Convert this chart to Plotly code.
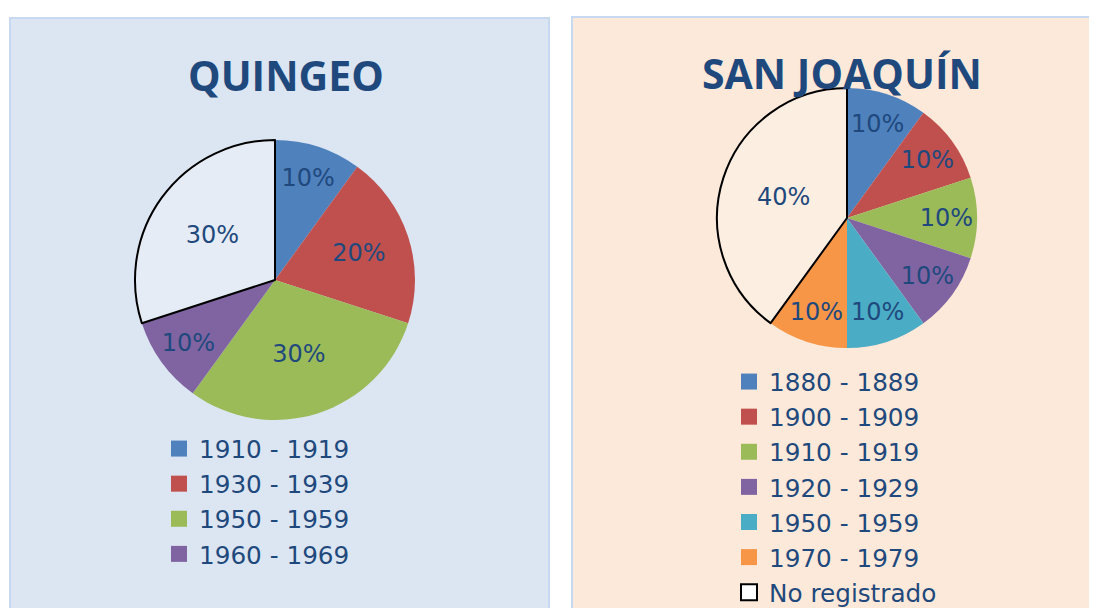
import plotly.graph_objects as go

# the page body keeps its default 8px margin, so the figure is drawn 8px in
OFF = 8
W, H = 1097 - OFF, 608 - OFF
INK = "#1F497D"
TITLE_FONT = "Open Sans, Liberation Sans, sans-serif"
TEXT_FONT = "DejaVu Sans, Open Sans, sans-serif"
NO_REG_FILL = "rgba(255,255,255,0.25)"

# --- data -------------------------------------------------------------
quingeo_labels = ["1910 - 1919", "1930 - 1939", "1950 - 1959", "1960 - 1969", "No registrado"]
quingeo_values = [10, 20, 30, 10, 30]
quingeo_colors = ["#4F81BD", "#C0504D", "#9BBB59", "#8064A2", NO_REG_FILL]
quingeo_in_legend = [True, True, True, True, False]

sanjoaquin_labels = ["1880 - 1889", "1900 - 1909", "1910 - 1919", "1920 - 1929",
                     "1950 - 1959", "1970 - 1979", "No registrado"]
sanjoaquin_values = [10, 10, 10, 10, 10, 10, 40]
sanjoaquin_colors = ["#4F81BD", "#C0504D", "#9BBB59", "#8064A2",
                     "#4BACC6", "#F79646", NO_REG_FILL]
sanjoaquin_in_legend = [True] * 7


def px_x(v):
    # window pixel -> paper fraction
    return (v - OFF) / W


def px_y(v):
    return 1 - (v - OFF) / H


def pie_domain(cx, cy, r):
    return dict(x=[px_x(cx - r), px_x(cx + r)], y=[px_y(cy + r), px_y(cy - r)])


def slice_lines(labels):
    # only the "No registrado" slice gets the black outline
    widths = [2 if lab == "No registrado" else 0 for lab in labels]
    return dict(color="black", width=widths)


fig = go.Figure()

fig.add_trace(go.Pie(
    labels=quingeo_labels, values=quingeo_values,
    marker=dict(colors=quingeo_colors, line=slice_lines(quingeo_labels)),
    sort=False, direction="clockwise", rotation=0,
    textinfo="percent", textposition="inside", insidetextorientation="horizontal",
    insidetextfont=dict(family=TEXT_FONT, size=24, color=INK),
    domain=pie_domain(275, 280, 140), showlegend=False,
))

fig.add_trace(go.Pie(
    labels=sanjoaquin_labels, values=sanjoaquin_values,
    marker=dict(colors=sanjoaquin_colors, line=slice_lines(sanjoaquin_labels)),
    sort=False, direction="clockwise", rotation=0,
    textinfo="percent", textposition="inside", insidetextorientation="horizontal",
    insidetextfont=dict(family=TEXT_FONT, size=24, color=INK),
    domain=pie_domain(847, 218, 130), showlegend=False,
))

# legend entries (square swatches) built from the same lists
for labels, colors, keep, legend in [
    (quingeo_labels, quingeo_colors, quingeo_in_legend, "legend"),
    (sanjoaquin_labels, sanjoaquin_colors, sanjoaquin_in_legend, "legend2"),
]:
    for lab, col, k in zip(labels, colors, keep):
        if not k:
            continue
        is_nr = lab == "No registrado"
        fig.add_trace(go.Scatter(
            x=[None], y=[None], mode="markers", name=lab, legend=legend,
            marker=dict(symbol="square", size=16,
                        color="white" if is_nr else col,
                        line=dict(color="black" if is_nr else col, width=2 if is_nr else 0)),
            hoverinfo="skip",
        ))

legend_style = dict(
    font=dict(family=TEXT_FONT, size=24.7, color=INK),
    bgcolor="rgba(0,0,0,0)", borderwidth=0, tracegroupgap=0,
    xanchor="left", yanchor="top", itemsizing="trace",
)

fig.update_layout(
    width=W, height=H,
    margin=dict(l=0, r=0, t=0, b=0, autoexpand=False),
    paper_bgcolor="white", plot_bgcolor="rgba(0,0,0,0)",
    font=dict(family=TEXT_FONT, color=INK),
    xaxis=dict(visible=False), yaxis=dict(visible=False),
    legend=dict(x=px_x(159), y=px_y(426), **legend_style),
    legend2=dict(x=px_x(729), y=px_y(359), **legend_style),
    shapes=[
        dict(type="rect", xref="paper", yref="paper",
             x0=px_x(10), x1=px_x(549), y0=px_y(640), y1=px_y(18),
             fillcolor="#DCE6F2", line=dict(color="#C6D9F1", width=2), layer="below"),
        dict(type="rect", xref="paper", yref="paper",
             x0=px_x(572), x1=px_x(1130), y0=px_y(640), y1=px_y(17),
             fillcolor="#FDE9D9", line=dict(color="#C6D9F1", width=2), layer="below"),
    ],
    annotations=[
        dict(text="<b>QUINGEO</b>", x=px_x(286), y=px_y(75), xref="paper", yref="paper",
             xanchor="center", yanchor="middle", showarrow=False,
             font=dict(family=TITLE_FONT, size=41, color=INK)),
        dict(text="<b>SAN JOAQUÍN</b>", x=px_x(842), y=px_y(73), xref="paper", yref="paper",
             xanchor="center", yanchor="middle", showarrow=False,
             font=dict(family=TITLE_FONT, size=41, color=INK)),
    ],
)

fig.write_html("out.html")
